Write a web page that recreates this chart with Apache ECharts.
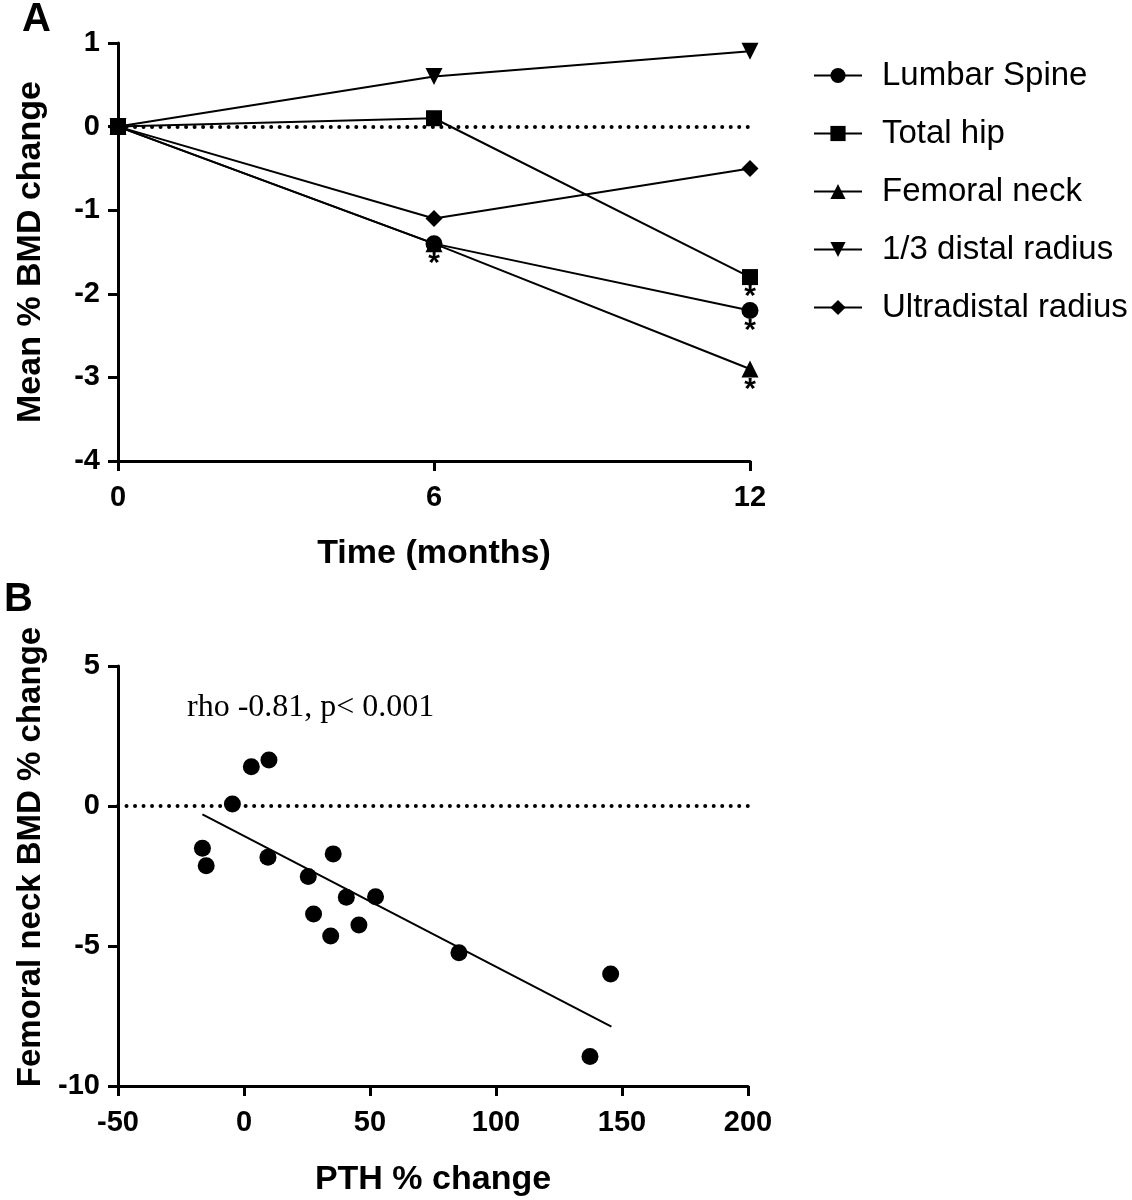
<!DOCTYPE html>
<html><head><meta charset="utf-8">
<script src="https://cdn.jsdelivr.net/npm/echarts@6/dist/echarts.min.js"></script>
<style>html,body{margin:0;padding:0;background:#fff}#c{width:1132px;height:1200px}</style>
</head><body><div id="c"></div>
<script>
// ---- Panel A data ----
const months = [0, 6, 12];
const lumbarSpine = [0, -1.4, -2.2];
const totalHip = [0, 0.1, -1.8];
const femoralNeck = [0, -1.4, -2.9];
const distalRadius = [0, 0.6, 0.9];
const ultradistalRadius = [0, -1.1, -0.5];
// asterisks (significance) per point
const sigLumbar = [false, true, true];
const sigHip = [false, false, true];
const sigNeck = [false, false, true];

// ---- Panel B data ----
const pthChange = [-4.6, -16.5, -15.0, 9.5, 35.4, 25.5, 40.6, 52.2, 27.6, 45.6, 34.4, 85.3, 145.5, 137.3, 2.9, 9.9];
const fnBmdChange = [0.07, -1.51, -2.13, -1.83, -1.71, -2.52, -3.26, -3.24, -3.86, -4.25, -4.64, -5.24, -6.0, -8.95, 1.40, 1.64];
const fitX = [-16.5, 145.8];
const fitY = [-0.30, -7.88];
const annotation = 'rho -0.81, p< 0.001';

const FF = 'Liberation Sans';
const AX = {
  axisLine: {show: true, onZero: false, lineStyle: {color: '#000', width: 3}},
  axisTick: {show: true, length: 10, lineStyle: {color: '#000', width: 3}},
  splitLine: {show: false},
  axisLabel: {color: '#000', fontFamily: FF, fontWeight: 'bold', fontSize: 29},
  nameTextStyle: {color: '#000', fontFamily: FF, fontWeight: 'bold', fontSize: 34}
};
function ax(extra) { return Object.assign(JSON.parse(JSON.stringify(AX)), extra); }

function mkData(vals, sig) {
  return months.map((m, i) => {
    const d = {value: [m, vals[i]]};
    if (sig && sig[i]) d.label = {show: true, position: 'bottom', distance: -3, formatter: '*', color: '#000', fontSize: 30, fontWeight: 'bold', fontFamily: FF};
    return d;
  });
}
const lineStyle = {color: '#000', width: 2};
function lineSeries(name, vals, symbol, size, rotate, sig) {
  return {
    name, type: 'line', xAxisIndex: 0, yAxisIndex: 0,
    data: mkData(vals, sig), symbol, symbolSize: size, symbolRotate: rotate || 0,
    itemStyle: {color: '#000', opacity: 1}, lineStyle, showSymbol: true, z: 3
  };
}
const dotted = {color: '#000', type: [0.01, 8.5], width: 4, cap: 'round'};

const chart = echarts.init(document.getElementById('c'), null, {renderer: 'canvas'});
chart.setOption({
  animation: false,
  backgroundColor: '#fff',
  grid: [
    {left: 118, top: 43, width: 632, height: 418},
    {left: 118, top: 666, width: 630, height: 420}
  ],
  xAxis: [
    ax({type: 'value', gridIndex: 0, min: 0, max: 12, interval: 6, name: 'Time (months)', nameLocation: 'middle', nameGap: 76,
        axisLabel: Object.assign({}, AX.axisLabel, {margin: 22})}),
    ax({type: 'value', gridIndex: 1, min: -50, max: 200, interval: 50, name: 'PTH % change', nameLocation: 'middle', nameGap: 77,
        axisLabel: Object.assign({}, AX.axisLabel, {margin: 22})})
  ],
  yAxis: [
    ax({type: 'value', gridIndex: 0, min: -4, max: 1, interval: 1, name: 'Mean % BMD change', nameLocation: 'middle', nameGap: 70,
        axisLabel: Object.assign({}, AX.axisLabel, {margin: 18})}),
    ax({type: 'value', gridIndex: 1, min: -10, max: 5, interval: 5,
        axisLabel: Object.assign({}, AX.axisLabel, {margin: 18})})
  ],
  legend: {
    orient: 'vertical', left: 808, top: 54, itemWidth: 48, itemHeight: 19, itemGap: 25,
    textStyle: {color: '#000', fontFamily: FF, fontSize: 33, lineHeight: 33, padding: [0, 0, 0, 15]},
    data: ['Lumbar Spine', 'Total hip', 'Femoral neck', '1/3 distal radius', 'Ultradistal radius']
  },
  graphic: [
    {type: 'text', left: 22, top: 0, style: {text: 'A', font: 'bold 40px "Liberation Sans"', fill: '#000'}},
    {type: 'text', left: 4, top: 580, style: {text: 'B', font: 'bold 40px "Liberation Sans"', fill: '#000'}},
    {type: 'text', left: 187, top: 692, style: {text: annotation, font: '32px "Liberation Serif"', fill: '#000'}},
    {type: 'text', x: 31, y: 857, rotation: Math.PI / 2,
      style: {text: 'Femoral neck BMD % change', font: 'bold 33px "Liberation Sans"', fill: '#000', align: 'center', verticalAlign: 'middle'}}
  ],
  series: [
    {
      name: 'zeroA', type: 'line', xAxisIndex: 0, yAxisIndex: 0, data: [], silent: true,
      markLine: {silent: true, symbol: 'none', label: {show: false}, lineStyle: dotted, data: [{yAxis: 0}]}, z: 1
    },
    lineSeries('Lumbar Spine', lumbarSpine, 'circle', 17, 0, sigLumbar),
    lineSeries('Total hip', totalHip, 'rect', 16, 0, sigHip),
    lineSeries('Femoral neck', femoralNeck, 'triangle', 17, 0, sigNeck),
    lineSeries('1/3 distal radius', distalRadius, 'triangle', 17, 180, null),
    lineSeries('Ultradistal radius', ultradistalRadius, 'diamond', 17, 0, null),
    {
      name: 'zeroB', type: 'line', xAxisIndex: 1, yAxisIndex: 1, data: [], silent: true,
      markLine: {silent: true, symbol: 'none', label: {show: false}, lineStyle: dotted, data: [{yAxis: 0}]}, z: 1
    },
    {
      name: 'fit', type: 'line', xAxisIndex: 1, yAxisIndex: 1, data: fitX.map((x, i) => [x, fitY[i]]),
      symbol: 'none', lineStyle: {color: '#000', width: 2}, z: 2
    },
    {
      name: 'points', type: 'scatter', xAxisIndex: 1, yAxisIndex: 1,
      data: pthChange.map((x, i) => [x, fnBmdChange[i]]), symbol: 'circle', symbolSize: 17,
      itemStyle: {color: '#000', opacity: 1}, z: 3
    }
  ]
});
</script></body></html>
